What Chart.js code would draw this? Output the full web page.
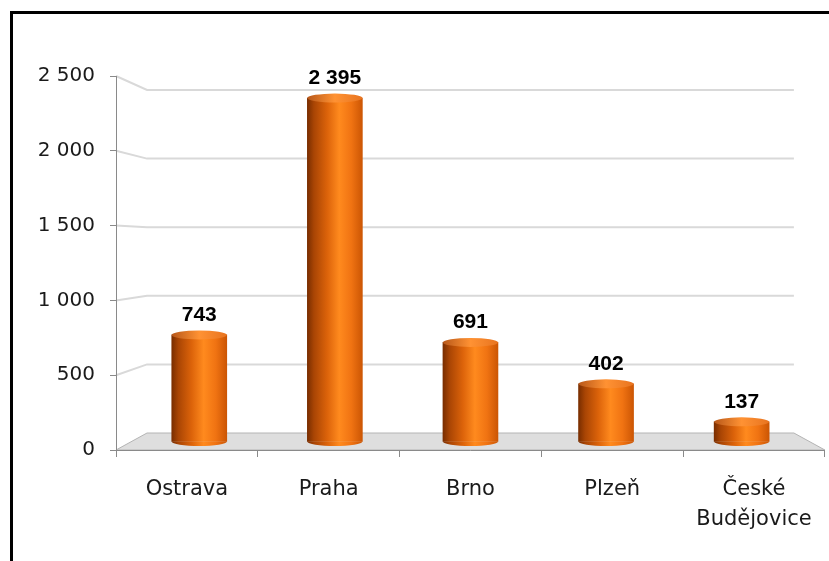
<!DOCTYPE html>
<html>
<head>
<meta charset="utf-8">
<script src="https://cdn.jsdelivr.net/npm/chart.js@4/dist/chart.umd.min.js"></script>
<style>
  html, body { margin: 0; padding: 0; background: #fff; }
  #wrap { width: 829px; height: 561px; position: relative; }
</style>
</head>
<body>
<div id="wrap"><canvas id="c" width="829" height="561"></canvas></div>
<script>
// ---- data ----
const categories = ['Ostrava', 'Praha', 'Brno', 'Plzeň', 'České Budějovice'];
const values = [743, 2395, 691, 402, 137];
const yTickValues = [0, 500, 1000, 1500, 2000, 2500];

function fmt(v) {
  return String(v).replace(/\B(?=(\d{3})+(?!\d))/g, ' ');
}

const TEXT = '#1a1a1a';
const AXIS = '#8a8a8a';
const GRID = '#d9d9d9';
const DEPTH_X = 31;     // perspective shift of the back wall
const BAR_W = 55;
const CAP_RY = 4.5;

function bodyGradient(ctx, cx, half) {
  const g = ctx.createLinearGradient(cx - half, 0, cx + half, 0);
  g.addColorStop(0, '#7a2e00');
  g.addColorStop(0.12, '#a94504');
  g.addColorStop(0.36, '#dc630a');
  g.addColorStop(0.58, '#ff8a1e');
  g.addColorStop(0.8, '#f07312');
  g.addColorStop(1, '#cc5604');
  return g;
}
function capGradient(ctx, cx, half) {
  const g = ctx.createLinearGradient(cx - half, 0, cx + half, 0);
  g.addColorStop(0, '#b8581a');
  g.addColorStop(0.5, '#ff9233');
  g.addColorStop(1, '#e87420');
  return g;
}

const scenePlugin = {
  id: 'scene',
  beforeDraw(chart) {
    const ctx = chart.ctx;
    const a = chart.chartArea;
    const yF = chart.scales.y, yB = chart.scales.yBack;
    ctx.save();
    ctx.fillStyle = '#fff';
    ctx.fillRect(0, 0, chart.width, chart.height);
    // outer frame (left + top visible)
    ctx.fillStyle = '#000';
    ctx.fillRect(10, 11, 3, chart.height - 11);
    ctx.fillRect(10, 11, chart.width - 10, 3);
    // floor
    const f0 = yF.getPixelForValue(0), b0 = yB.getPixelForValue(0);
    ctx.beginPath();
    ctx.moveTo(a.left, f0);
    ctx.lineTo(a.left + DEPTH_X, b0);
    ctx.lineTo(a.right - DEPTH_X, b0);
    ctx.lineTo(a.right, f0);
    ctx.closePath();
    ctx.fillStyle = '#dedede';
    ctx.fill();
    ctx.strokeStyle = '#b4b4b4';
    ctx.lineWidth = 1;
    ctx.stroke();
    // gridlines: front tick -> back wall
    ctx.strokeStyle = GRID;
    ctx.lineWidth = 2;
    yTickValues.forEach(v => {
      if (v === 0) return;
      const yf = yF.getPixelForValue(v), yb = yB.getPixelForValue(v);
      ctx.beginPath();
      ctx.moveTo(a.left, yf);
      ctx.lineTo(a.left + DEPTH_X, yb);
      ctx.lineTo(a.right - DEPTH_X, yb);
      ctx.stroke();
    });
    ctx.restore();
  },
  afterDatasetsDraw(chart) {
    const ctx = chart.ctx;
    const meta = chart.getDatasetMeta(0);
    ctx.save();
    meta.data.forEach((el, i) => {
      const half = BAR_W / 2;
      // bottom rounded edge
      ctx.beginPath();
      ctx.ellipse(el.x, el.base, half, CAP_RY, 0, 0, Math.PI);
      ctx.closePath();
      ctx.fillStyle = bodyGradient(ctx, el.x, half);
      ctx.fill();
      // top cap
      ctx.beginPath();
      ctx.ellipse(el.x, el.y, half, CAP_RY, 0, 0, Math.PI * 2);
      ctx.fillStyle = capGradient(ctx, el.x, half);
      ctx.fill();
      // value label
      ctx.fillStyle = '#000';
      ctx.font = 'bold 21px "Liberation Sans", Arial, sans-serif';
      ctx.textAlign = 'center';
      ctx.textBaseline = 'alphabetic';
      ctx.fillText(fmt(values[i]), el.x, el.y - 14);
    });
    ctx.restore();
  }
};

new Chart(document.getElementById('c'), {
  type: 'bar',
  data: {
    labels: categories,
    datasets: [{
      data: values.map((v, i) => ({ x: i, y: v })),
      xAxisID: 'xMid',
      yAxisID: 'yMid',
      barThickness: BAR_W,
      borderWidth: 0,
      backgroundColor(c) {
        const chart = c.chart;
        if (!chart.chartArea || !chart.scales.xMid) return '#e8680c';
        const cx = chart.scales.xMid.getPixelForValue(c.dataIndex);
        return bodyGradient(chart.ctx, cx, BAR_W / 2);
      }
    }]
  },
  options: {
    responsive: false,
    animation: false,
    events: [],
    layout: { padding: { left: 0, right: 3, top: 76, bottom: 0 } },
    plugins: { legend: { display: false }, tooltip: { enabled: false } },
    scales: {
      x: {
        type: 'category',
        position: 'bottom',
        offset: true,
        grid: { display: true, drawOnChartArea: false, drawTicks: true, tickLength: 7, color: AXIS, offset: true },
        border: { display: true, color: AXIS, width: 1 },
        ticks: {
          color: TEXT,
          font: { family: '"DejaVu Sans", sans-serif', size: 21, lineHeight: 1.45 },
          padding: 17,
          maxRotation: 0,
          autoSkip: false,
          callback(v, i) {
            const s = categories[i];
            return s.indexOf(' ') >= 0 ? s.split(' ') : s;
          }
        },
        afterFit(s) { s.height = 111; }
      },
      y: {
        type: 'linear',
        position: 'left',
        min: 0,
        max: 2500,
        grid: { display: true, drawOnChartArea: false, drawTicks: true, tickLength: 6, color: AXIS },
        border: { display: true, color: AXIS, width: 1 },
        ticks: {
          stepSize: 500,
          color: TEXT,
          padding: 15,
          font: { family: '"DejaVu Sans", sans-serif', size: 20 },
          callback(v) { return fmt(v); }
        },
        afterFit(s) { s.width = 116; }
      },
      yMid: { type: 'linear', display: false, min: -59.3, max: 2548.8 },
      yBack: { type: 'linear', display: false, min: -123.9, max: 2602.0 },
      xMid: { type: 'linear', display: false, offset: false, grid: { offset: false }, min: -0.614, max: 4.614 }
    }
  },
  plugins: [scenePlugin]
});
</script>
</body>
</html>
